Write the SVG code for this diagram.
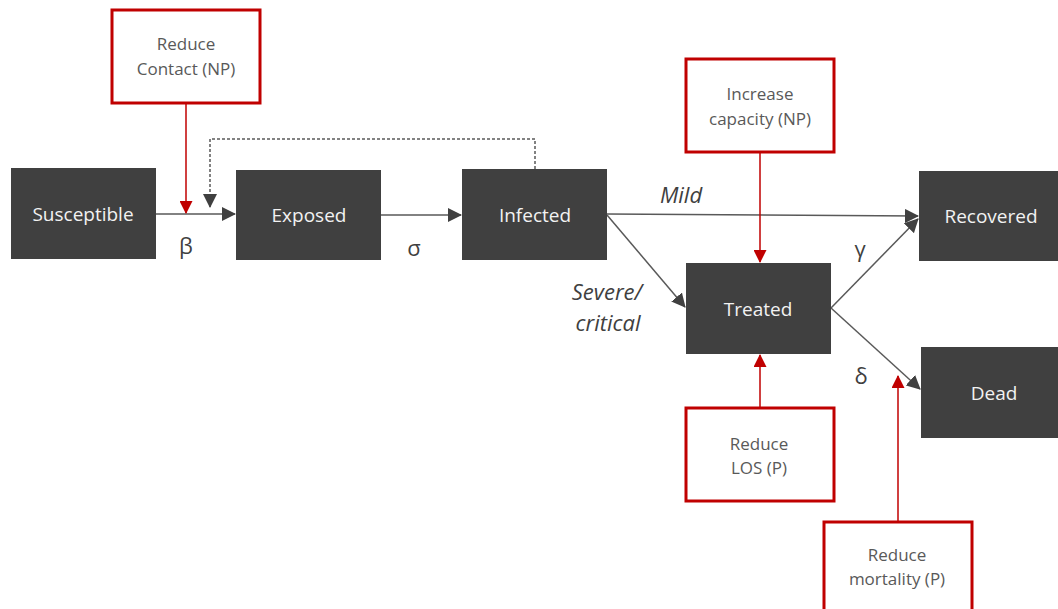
<svg xmlns="http://www.w3.org/2000/svg" width="1058" height="609" viewBox="0 0 1058 609">
<style>
.node{fill:#404040;}
.nt{fill:#F2F2F2;font-family:"Open Sans","Liberation Sans",sans-serif;font-size:19px;text-anchor:middle;dominant-baseline:central;}
.box{fill:#fff;stroke:#C00000;stroke-width:3;}
.bt{fill:#595959;font-family:"Open Sans","Liberation Sans",sans-serif;font-size:17px;text-anchor:middle;}
.c{stroke:#595959;stroke-width:1.5;fill:none;}
.r{stroke:#C00000;stroke-width:1.5;fill:none;}
.lbl{fill:#404040;font-family:"Open Sans","Liberation Sans",sans-serif;font-size:22px;text-anchor:middle;}
.it{fill:#404040;font-family:"Open Sans","Liberation Sans",sans-serif;font-size:22px;font-style:italic;text-anchor:middle;}
</style>
<defs>
<marker id="ar" markerWidth="13" markerHeight="13" refX="12" refY="6.5" orient="auto" markerUnits="userSpaceOnUse" viewBox="0 0 13 13"><path d="M0,0 L13,6.5 L0,13 Z" fill="#C00000"/></marker>
<marker id="agb" markerWidth="14" markerHeight="14" refX="13" refY="7" orient="auto" markerUnits="userSpaceOnUse" viewBox="0 0 14 14"><path d="M0,0 L14,7 L0,14 Z" fill="#404040"/></marker>
</defs>
<rect width="1058" height="609" fill="#fff"/>
<g id="connectors">
<line class="c" x1="156" y1="214" x2="235" y2="214" marker-end="url(#agb)"/>
<polyline class="c" stroke-dasharray="3,2" stroke-width="1.2" points="535,169 535,139 210,139 210,207" marker-end="url(#agb)"/>
<line class="c" x1="381" y1="215" x2="461" y2="215" marker-end="url(#agb)"/>
<line class="c" x1="607" y1="214" x2="918" y2="216" marker-end="url(#agb)"/>
<line class="c" x1="607" y1="215" x2="685" y2="307" marker-end="url(#agb)"/>
<line class="c" x1="831" y1="308" x2="918" y2="219" marker-end="url(#agb)"/>
<line class="c" x1="831" y1="308" x2="920" y2="389" marker-end="url(#agb)"/>
<line class="r" x1="186" y1="103" x2="186" y2="213" marker-end="url(#ar)"/>
<line class="r" x1="760" y1="152" x2="760" y2="262" marker-end="url(#ar)"/>
<line class="r" x1="760" y1="408" x2="760" y2="355" marker-end="url(#ar)"/>
<line class="r" x1="898" y1="522" x2="898" y2="376" marker-end="url(#ar)"/>
</g>
<g id="susceptible"><rect class="node" x="11" y="168" width="145" height="91"/><text class="nt" x="83" y="214">Susceptible</text></g>
<g id="exposed"><rect class="node" x="236" y="170" width="145" height="90"/><text class="nt" x="309" y="215">Exposed</text></g>
<g id="infected"><rect class="node" x="462" y="169" width="145" height="91"/><text class="nt" x="535" y="215">Infected</text></g>
<g id="treated"><rect class="node" x="686" y="263" width="145" height="91"/><text class="nt" x="758" y="309">Treated</text></g>
<g id="recovered"><rect class="node" x="919" y="171" width="145" height="90"/><text class="nt" x="991" y="216">Recovered</text></g>
<g id="dead"><rect class="node" x="921" y="347" width="145" height="91"/><text class="nt" x="994" y="393">Dead</text></g>
<g id="reduce-contact"><rect class="box" x="112" y="10" width="148" height="93"/><text class="bt" x="186" y="50">Reduce</text><text class="bt" x="186" y="75">Contact (NP)</text></g>
<g id="increase-capacity"><rect class="box" x="686" y="59" width="148" height="93"/><text class="bt" x="760" y="100">Increase</text><text class="bt" x="760" y="125">capacity (NP)</text></g>
<g id="reduce-los"><rect class="box" x="686" y="408" width="148" height="93"/><text class="bt" x="759" y="450">Reduce</text><text class="bt" x="759" y="474">LOS (P)</text></g>
<g id="reduce-mortality"><rect class="box" x="824" y="522" width="148" height="93"/><text class="bt" x="897" y="561">Reduce</text><text class="bt" x="897" y="585">mortality (P)</text></g>
<g id="labels">
<text class="lbl" x="186" y="254">β</text>
<text class="lbl" x="414" y="256">σ</text>
<text class="it" x="681" y="203">Mild</text>
<text class="it" x="607" y="300">Severe/</text>
<text class="it" x="608" y="331">critical</text>
<text class="lbl" x="860" y="257">γ</text>
<text class="lbl" x="861" y="384">δ</text>
</g>
</svg>
